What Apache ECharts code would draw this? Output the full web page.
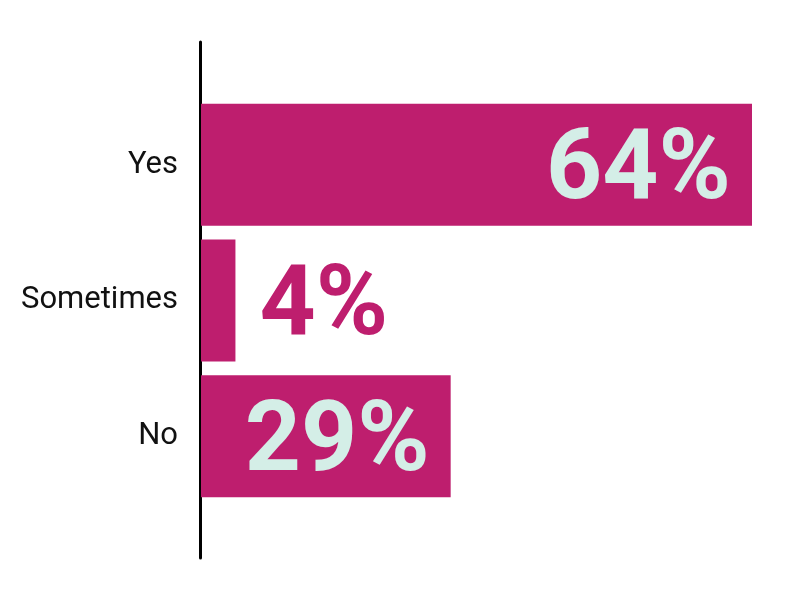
<!DOCTYPE html>
<html>
<head>
<meta charset="utf-8">
<script src="https://cdn.jsdelivr.net/npm/echarts@6/dist/echarts.min.js"></script>
<style>html,body{margin:0;padding:0;background:#fff;}#c{width:800px;height:595px;}</style>
</head>
<body>
<div id="c"></div>
<script>
const categories = ['Yes', 'Sometimes', 'No'];
const values = [64, 4, 29];
const labelInside = [true, false, true];

const barColor = '#BE1E6E';
const lightText = '#D4EEE7';

const chart = echarts.init(document.getElementById('c'));
chart.setOption({
  animation: false,
  backgroundColor: '#ffffff',
  grid: [
    { left: 201, right: 48, top: 97, bottom: 91, containLabel: false },
    { left: 200, right: 48, top: 42, bottom: 37, containLabel: false }
  ],
  xAxis: [
    { gridIndex: 0, type: 'value', min: 0, max: 64, show: false },
    { gridIndex: 1, type: 'value', min: 0, max: 1, show: false }
  ],
  yAxis: [
    {
      gridIndex: 0, type: 'category', data: categories, inverse: true,
      axisLine: { show: false }, axisTick: { show: false }, splitLine: { show: false },
      axisLabel: { margin: 23, fontFamily: 'Roboto', fontSize: 31, color: '#111111',
                   verticalAlign: 'middle', padding: [14, 0, 0, 0] }
    },
    {
      gridIndex: 1, type: 'value', min: 0, max: 1,
      axisLine: { show: true, lineStyle: { color: '#000000', width: 3 } },
      axisTick: { show: false }, axisLabel: { show: false }, splitLine: { show: false }
    }
  ],
  series: [{
    type: 'bar',
    xAxisIndex: 0, yAxisIndex: 0,
    barWidth: 122,
    data: values.map((v, i) => ({
      value: v,
      label: {
        show: true,
        position: labelInside[i] ? 'insideRight' : 'right',
        distance: labelInside[i] ? 21 : 24,
        offset: [0, 9],
        color: labelInside[i] ? lightText : barColor,
        fontFamily: 'Roboto', fontWeight: 'bold', fontSize: 98,
        formatter: '{c}%'
      }
    })),
    itemStyle: { color: barColor }
  }]
});
</script>
</body>
</html>
